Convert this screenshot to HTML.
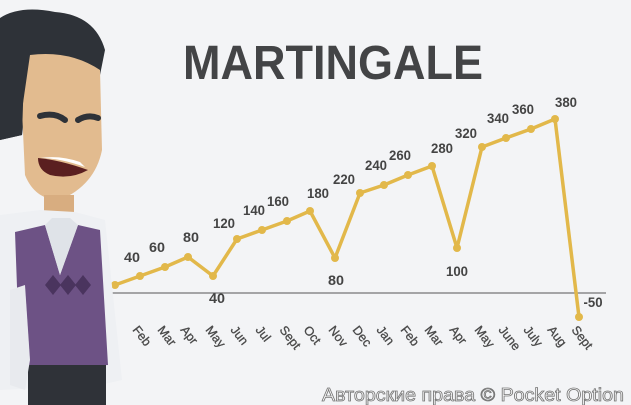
<!DOCTYPE html>
<html><head><meta charset="utf-8"><style>
html,body{margin:0;padding:0;background:#f4f5f7;}
svg{display:block}
</style></head><body>
<svg width="631" height="405" viewBox="0 0 631 405" xmlns="http://www.w3.org/2000/svg">
<rect width="631" height="405" fill="#f3f4f6"/>
<text x="183" y="79" font-family="Liberation Sans, sans-serif" font-weight="bold" font-size="48" fill="#434446" textLength="300" lengthAdjust="spacingAndGlyphs">MARTINGALE</text>
<line x1="100" y1="293" x2="606" y2="293" stroke="#555" stroke-width="1"/>
<polyline fill="none" stroke="#e2b84a" stroke-width="3.5" stroke-linejoin="round" points="115,285 140,276 165,267 188,257 213,276 237,239 262,230 287,221 310,211 335,258 360,193 384,185 408,175 432,166 457,248 482,147 506,138 531,129 555,119 579,317"/>
<g fill="#e2b84a">
<circle cx="115" cy="285" r="4"/><circle cx="140" cy="276" r="4"/><circle cx="165" cy="267" r="4"/><circle cx="188" cy="257" r="4"/><circle cx="213" cy="276" r="4"/><circle cx="237" cy="239" r="4"/><circle cx="262" cy="230" r="4"/><circle cx="287" cy="221" r="4"/><circle cx="310" cy="211" r="4"/><circle cx="335" cy="258" r="4"/><circle cx="360" cy="193" r="4"/><circle cx="384" cy="185" r="4"/><circle cx="408" cy="175" r="4"/><circle cx="432" cy="166" r="4"/><circle cx="457" cy="248" r="4"/><circle cx="482" cy="147" r="4"/><circle cx="506" cy="138" r="4"/><circle cx="531" cy="129" r="4"/><circle cx="555" cy="119" r="4"/><circle cx="579" cy="317" r="4"/>
</g>
<g font-family="Liberation Sans, sans-serif" font-weight="bold" font-size="14" fill="#444" text-anchor="middle">
<text x="132" y="262" textLength="16" lengthAdjust="spacingAndGlyphs">40</text>
<text x="157" y="252" textLength="16" lengthAdjust="spacingAndGlyphs">60</text>
<text x="191" y="242" textLength="16" lengthAdjust="spacingAndGlyphs">80</text>
<text x="217" y="303" textLength="16" lengthAdjust="spacingAndGlyphs">40</text>
<text x="224" y="228" textLength="22" lengthAdjust="spacingAndGlyphs">120</text>
<text x="254" y="215" textLength="22" lengthAdjust="spacingAndGlyphs">140</text>
<text x="278" y="206" textLength="22" lengthAdjust="spacingAndGlyphs">160</text>
<text x="318" y="198" textLength="22" lengthAdjust="spacingAndGlyphs">180</text>
<text x="336" y="285" textLength="16" lengthAdjust="spacingAndGlyphs">80</text>
<text x="344" y="184" textLength="22" lengthAdjust="spacingAndGlyphs">220</text>
<text x="376" y="170" textLength="22" lengthAdjust="spacingAndGlyphs">240</text>
<text x="400" y="160" textLength="22" lengthAdjust="spacingAndGlyphs">260</text>
<text x="442" y="153" textLength="22" lengthAdjust="spacingAndGlyphs">280</text>
<text x="457" y="276" textLength="22" lengthAdjust="spacingAndGlyphs">100</text>
<text x="466" y="138" textLength="22" lengthAdjust="spacingAndGlyphs">320</text>
<text x="498" y="123" textLength="22" lengthAdjust="spacingAndGlyphs">340</text>
<text x="523" y="114" textLength="22" lengthAdjust="spacingAndGlyphs">360</text>
<text x="566" y="107" textLength="22" lengthAdjust="spacingAndGlyphs">380</text>
<text x="593" y="307" textLength="19" lengthAdjust="spacingAndGlyphs">-50</text>
</g>
<g font-family="Liberation Sans, sans-serif" font-size="12.5" fill="#4a4a4a" stroke="#4a4a4a" stroke-width="0.3">
<text transform="translate(132,330) rotate(52)">Feb</text>
<text transform="translate(157,330) rotate(52)">Mar</text>
<text transform="translate(180,330) rotate(52)">Apr</text>
<text transform="translate(205,330) rotate(52)">May</text>
<text transform="translate(230,330) rotate(52)">Jun</text>
<text transform="translate(255,330) rotate(52)">Jul</text>
<text transform="translate(279,330) rotate(52)">Sept</text>
<text transform="translate(303,330) rotate(52)">Oct</text>
<text transform="translate(328,330) rotate(52)">Nov</text>
<text transform="translate(352,330) rotate(52)">Dec</text>
<text transform="translate(376,330) rotate(52)">Jan</text>
<text transform="translate(400,330) rotate(52)">Feb</text>
<text transform="translate(424,330) rotate(52)">Mar</text>
<text transform="translate(449,330) rotate(52)">Apr</text>
<text transform="translate(474,330) rotate(52)">May</text>
<text transform="translate(498,330) rotate(52)">June</text>
<text transform="translate(523,330) rotate(52)">July</text>
<text transform="translate(547,330) rotate(52)">Aug</text>
<text transform="translate(571,330) rotate(52)">Sept</text>
</g>
<!-- character -->
<path d="M0,18 Q20,5 55,12 Q95,15 105,50 L100,75 L60,55 L30,70 L22,135 L0,140 Z" fill="#2e3238"/>
<path d="M30,55 Q70,50 100,70 L102,150 Q95,185 60,200 Q35,200 25,175 L22,110 Z" fill="#e2bb8f"/>
<path d="M0,40 L25,45 L22,135 L0,140 Z" fill="#2e3238"/>
<rect x="44" y="195" width="30" height="25" fill="#d8ad80"/>
<path d="M0,215 L40,210 L75,212 L105,220 L122,380 L100,385 L0,390 Z" fill="#eef0f3"/>
<path d="M15,232 L45,225 L60,275 L78,225 L100,230 L108,365 L20,370 Z" fill="#6d5285"/>
<path d="M45,225 L60,275 L78,225 L70,218 L52,218 Z" fill="#dfe3e8"/>
<g fill="#4a345e"><path d="M45,285 l8,-10 8,10 -8,10z"/><path d="M60,285 l8,-10 8,10 -8,10z"/><path d="M75,285 l8,-10 8,10 -8,10z"/></g>
<rect x="28" y="365" width="78" height="40" fill="#2f3238"/>
<path d="M10,290 L25,285 L30,360 L25,390 L10,385 Z" fill="#e8eaee"/>
<path d="M40,116 Q55,112 65,120" stroke="#2e3238" stroke-width="6" fill="none" stroke-linecap="round"/>
<path d="M78,120 Q88,114 98,118" stroke="#2e3238" stroke-width="6" fill="none" stroke-linecap="round"/>
<path d="M38,158 Q60,160 88,170 Q70,180 50,175 Q38,170 38,158Z" fill="#5a1f20"/>
<path d="M40,158 Q60,158 85,167 L80,162 Q60,155 40,158Z" fill="#fff"/>
<text x="624" y="401" text-anchor="end" font-family="Liberation Sans, sans-serif" font-size="18" fill="#fff" stroke="#777" stroke-width="0.8" textLength="302" lengthAdjust="spacingAndGlyphs">Авторские права © Pocket Option</text>
</svg>
</body></html>
